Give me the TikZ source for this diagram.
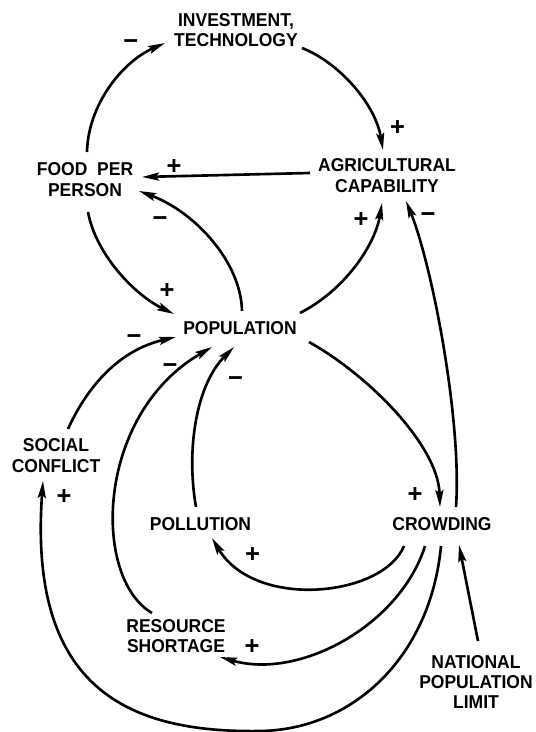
\documentclass[tikz,border=0pt]{standalone}
\usepackage{fontspec}
\setmainfont{Liberation Sans}[FakeStretch=0.94]
\newfontfamily\signfont{Liberation Sans}
\usetikzlibrary{arrows.meta,calc}
\tikzset{
  lbl/.style={inner sep=0pt,align=center,font=\bfseries\fontsize{10.6}{11.6}\selectfont},
  sgn/.style={inner sep=0pt,font=\signfont\bfseries\fontsize{14.5}{14.5}\selectfont},
  arr/.style={line width=1.5pt,-{Stealth[length=3.4mm,width=1.6mm,inset=0.6mm]}}
}
\begin{document}
\begin{tikzpicture}[x=0.02cm,y=-0.02cm]
\useasboundingbox (0,0) rectangle (535,732);
% nodes
\node[lbl] (inv) at (236,30) {INVESTMENT,\\TECHNOLOGY};
\node[lbl] (food) at (85,179.5) {FOOD\ \ PER\\PERSON};
\node[lbl] (agri) at (387,175.5) {AGRICULTURAL\\CAPABILITY};
\node[lbl] (pop) at (240,328.5) {POPULATION};
\node[lbl] (soc) at (56,455.5) {SOCIAL\\CONFLICT};
\node[lbl] (poll) at (200.5,524) {POLLUTION};
\node[lbl] (crowd) at (442,524) {CROWDING};
\node[lbl] (res) at (176,636) {RESOURCE\\SHORTAGE};
\node[lbl] (nat) at (476,682) {NATIONAL\\POPULATION\\LIMIT};
% connectors
\draw[arr] ($(food)+(2,-27.5)$) .. controls (88,105) and (122,62) .. ($(inv)+(-71,13)$);
\draw[arr] ($(inv)+(66,18)$) .. controls (338,62) and (375,103) .. ($(agri)+(-4,-25.5)$);
\draw[arr] ($(agri)+(-77,-2.5)$) -- ($(food)+(57,-2.5)$);
\draw[arr] ($(pop)+(2,-17.5)$) .. controls (241,262) and (195,212) .. ($(food)+(54,11.5)$);
\draw[arr] ($(food)+(3,32.5)$) .. controls (96,255) and (135,295) .. ($(pop)+(-66,-14.5)$);
\draw[arr] ($(pop)+(60,-15.5)$) .. controls (345,290) and (375,245) .. ($(agri)+(-5,27.5)$);
\draw[arr] ($(crowd)+(14,-17)$) .. controls (462,420) and (432,265) .. ($(agri)+(19,25.5)$);
\draw[arr] ($(pop)+(69,13.5)$) .. controls (368,375) and (438,445) .. ($(crowd)+(-2,-17)$);
\draw[arr] ($(crowd)+(-38,22)$) .. controls (383,597) and (255,610) .. ($(poll)+(11.5,14)$);
\draw[arr] ($(poll)+(-4.5,-17)$) .. controls (186,450) and (196,385) .. ($(pop)+(-6,18.5)$);
\draw[arr] ($(res)+(-24,-23)$) .. controls (92,578) and (95,415) .. ($(pop)+(-28,18.5)$);
\draw[arr] ($(crowd)+(-17,22)$) .. controls (400,625) and (300,680) .. ($(res)+(44,21)$);
\draw[arr] ($(soc)+(12,-26.5)$) .. controls (88,385) and (120,350) .. ($(pop)+(-64,8.5)$);
\coordinate (low) at (260,731);
\draw[arr] ($(crowd)+(-1,22)$) .. controls (430,660) and (350,730) .. (low)
  .. controls (130,733) and (28,690) .. ($(soc)+(-13,25.5)$);
\draw[arr] ($(nat)+(2,-41)$) -- ($(crowd)+(17,21)$);
% signs
\node[sgn] (s1) at (130.7,44.3) {−};
\node[sgn] (s2) at (397.6,128) {+};
\node[sgn] (s3) at (174,167) {+};
\node[sgn] (s4) at (160,222) {−};
\node[sgn] (s5) at (361,220) {+};
\node[sgn] (s6) at (428,218) {−};
\node[sgn] (s7) at (167,291) {+};
\node[sgn] (s8) at (134,340) {−};
\node[sgn] (s9) at (170,369) {−};
\node[sgn] (s10) at (235.5,382) {−};
\node[sgn] (s11) at (415,495) {+};
\node[sgn] (s12) at (64,497) {+};
\node[sgn] (s13) at (252.6,555) {+};
\node[sgn] (s14) at (252,647) {+};
\end{tikzpicture}
\end{document}
